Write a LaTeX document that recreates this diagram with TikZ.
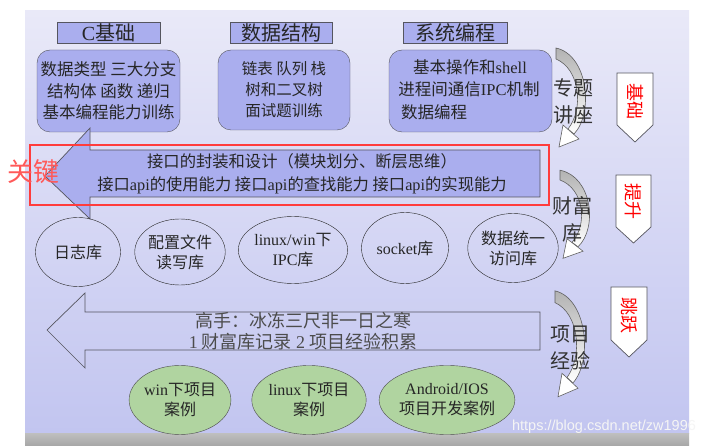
\documentclass[tikz,border=0pt]{standalone}
\usepackage{fontspec}
\setmainfont{Liberation Serif}
\setsansfont{Liberation Sans}
\newfontfamily\cjk{Noto Sans CJK SC}
\usetikzlibrary{shapes.geometric}
\definecolor{boxfill}{RGB}{170,174,238}
\definecolor{bgtop}{RGB}{233,233,248}
\definecolor{bgbot}{RGB}{194,197,240}
\definecolor{greenfill}{RGB}{176,212,160}
\definecolor{keyred}{RGB}{255,60,60}
\definecolor{edgec}{RGB}{85,85,95}
\newcommand\lat[1]{{\rmfamily #1}}
\newcommand\fsz[2]{\fontsize{#1}{#2}\selectfont}
\tikzset{
  hdr/.style={draw=edgec, fill=boxfill, minimum height=21pt, inner sep=0pt, text=black!85, font=\cjk\fsz{20}{22}},
  rbox/.style={draw=edgec, fill=boxfill, rounded corners=13pt, inner sep=0pt},
  btxt/.style={align=center, inner sep=0pt, text=black!85, font=\cjk\fsz{16.5}{21.5}},
  ell/.style={draw=black!85, ellipse, inner sep=0pt, align=center, text=black!85, font=\cjk\fsz{16}{20}},
  gell/.style={ell, fill=greenfill, draw=black!70},
  side/.style={align=center, inner sep=0pt, text=black!80, font=\cjk\fsz{20}{27}},
  badge/.style={fill=white, draw=edgec, line width=0.7pt},
  badgetxt/.style={rotate=-90, text=red, inner sep=0pt, font=\cjk\fsz{18}{20}},
  curarrow/.pic={
    \shadedraw[top color=gray!60, bottom color=white, draw=gray!75!black, line width=0.6pt]
      (0,-2) .. controls (32,5) and (38,63) .. (18,84) -- (12,79) .. controls (28,59) and (24,19) .. (0,9) -- cycle;
    \filldraw[fill=white, draw=gray!75!black, line width=0.6pt] (7,75) -- (23,89) -- (3,97) -- cycle;
  }
}
\begin{document}
\begin{tikzpicture}[x=1pt,y=-1pt]
\useasboundingbox (0,0) rectangle (715,446);
\fill[white] (0,0) rectangle (715,446);
\shade[top color=bgtop, bottom color=bgbot] (25,11) rectangle (689,433);
\shade[top color=gray!50, bottom color=gray!70] (25,433) rectangle (689,446);

% headers
\node[hdr, minimum width=103pt] (h1) at (108.5,32.5) {\lat{C}基础};
\node[hdr, minimum width=102pt] (h2) at (281,32.5) {数据结构};
\node[hdr, minimum width=104pt] (h3) at (455,32.5) {系统编程};

% top boxes
\node[rbox, minimum width=143pt, minimum height=82pt] (b1) at (108.5,91) {};
\node[btxt] (b1t) at (b1.center) {数据类型 三大分支\\结构体 函数 递归\\基本编程能力训练};
\node[rbox, minimum width=132pt, minimum height=80pt] (b2) at (284,90) {};
\node[btxt, font=\cjk\fsz{15.5}{21}] (b2t) at (b2.center) {链表 队列 栈\\树和二叉树\\面试题训练};
\node[rbox, minimum width=163pt, minimum height=82pt] (b3) at (470.5,91) {};
\node[btxt] (b3a) at (470,67) {基本操作和\lat{shell}};
\node[btxt] (b3b) at (469,89) {进程间通信\lat{IPC}机制};
\node[btxt, anchor=west] (b3c) at (401,112) {数据编程};

% big arrow 1
\filldraw[fill=boxfill, draw=edgec, line width=0.7pt]
  (540,150) -- (90,150) -- (90,128) -- (45,176) -- (90,219) -- (90,197) -- (540,197) -- cycle;
\node[btxt, font=\cjk\fsz{16.3}{23.5}] (a1t) at (302,174)
  {接口的封装和设计（模块划分、断层思维）\\接口\lat{api}的使用能力 接口\lat{api}的查找能力 接口\lat{api}的实现能力};
\draw[keyred, line width=2pt] (30,145) rectangle (549,205);
\node[text=keyred!85, inner sep=0pt, font=\cjk\fsz{26}{28}] (key) at (33,172) {关键};

% library ellipses
\node[ell, minimum width=85pt, minimum height=69pt] (e1) at (78,252) {日志库};
\node[ell, minimum width=86pt, minimum height=66pt] (e2) at (180,252) {配置文件\\读写库};
\node[ell, minimum width=86pt, minimum height=67pt] (e3) at (293,250) {\lat{linux/win}下\\\lat{IPC}库};
\node[ell, minimum width=87pt, minimum height=71pt] (e4) at (405,248) {\lat{socket}库};
\node[ell, minimum width=87pt, minimum height=69pt] (e5) at (513,248) {数据统一\\访问库};

% big arrow 2
\draw[edgec, line width=0.7pt]
  (540,312) -- (85,312) -- (85,293) -- (47,330) -- (85,368) -- (85,350) -- (540,350) -- cycle;
\node[btxt, text=black!70, font=\cjk\fsz{18}{21}] (a2t) at (303,331)
  {高手：冰冻三尺非一日之寒\\\lat{1} 财富库记录 \lat{2} 项目经验积累};

% project ellipses
\node[gell, minimum width=86pt, minimum height=69pt] (g1) at (180,400) {\lat{win}下项目\\案例};
\node[gell, minimum width=86pt, minimum height=69pt] (g2) at (309,400) {\lat{linux}下项目\\案例};
\node[gell, minimum width=87pt, minimum height=69pt] (g3) at (447,400) {\lat{Android/IOS}\\项目开发案例};

% curved arrows
\pic at (556,50) {curarrow};
\pic[yscale=0.89] at (560,172) {curarrow};
\pic[yscale=1.07] at (555,293) {curarrow};
\node[side] (s1) at (573,101) {专题\\讲座};
\node[side] (s2) at (572,219) {财富\\库};
\node[side] (s3) at (570,348) {项目\\经验};

% badges
\filldraw[badge] (617,73) -- (653,73) -- (653,125) -- (635,142) -- (617,125) -- cycle;
\node[badgetxt] (k1) at (635,102) {基础};
\filldraw[badge] (616,175) -- (651,175) -- (651,227) -- (633.5,243) -- (616,227) -- cycle;
\node[badgetxt] (k2) at (633.5,202) {提升};
\filldraw[badge] (611,287) -- (647,287) -- (647,340) -- (629,357) -- (611,340) -- cycle;
\node[badgetxt] (k3) at (629,316) {跳跃};

% watermark
\node[text=white!92!gray, inner sep=0pt, font=\sffamily\fsz{14.5}{16}] (wm) at (604,427) {https://blog.csdn.net/zw1996};
\end{tikzpicture}
\end{document}
